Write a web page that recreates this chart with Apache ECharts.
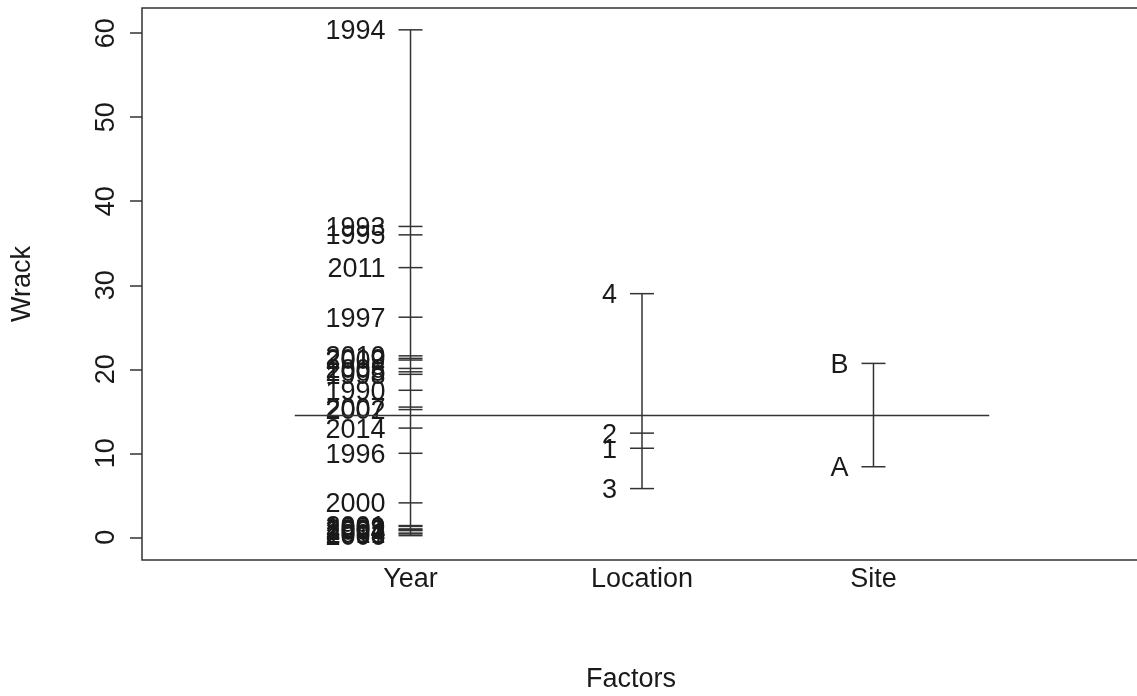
<!DOCTYPE html>
<html>
<head>
<meta charset="utf-8">
<script src="https://cdn.jsdelivr.net/npm/echarts@6/dist/echarts.min.js"></script>
<style>
  html, body { margin: 0; padding: 0; background: #fff; }
  #chart { width: 1137px; height: 696px; }
</style>
</head>
<body>
<div id="chart"></div>
<script>
// Design plot: mean of Wrack at each level of each factor
const factorNames = ['Year', 'Location', 'Site'];

const yearLevels = ['1990', '1991', '1992', '1993', '1994', '1995', '1996', '1997', '1998', '1999',
                    '2000', '2001', '2002', '2003', '2004', '2005', '2006', '2007', '2008', '2009',
                    '2010', '2011', '2012', '2013', '2014'];
const yearMeans  = [17.5, 0.5, 0.9, 37.0, 60.4, 36.0, 10.0, 26.2, 19.4, 1.3,
                    4.1, 1.4, 15.2, 1.0, 0.8, 19.7, 0.2, 15.5, 20.1, 21.1,
                    21.6, 32.1, 21.3, 0.4, 13.0];

const locationLevels = ['1', '2', '3', '4'];
const locationMeans  = [10.6, 12.4, 5.8, 29.0];

const siteLevels = ['A', 'B'];
const siteMeans  = [8.4, 20.7];

const grandMean = 14.5;
const yTicks = [0, 10, 20, 30, 40, 50, 60];

const FONT = '"Liberation Sans", Arial, sans-serif';
const INK = '#1a1a1a';
const LINE = '#333';

const factors = [
  { levels: yearLevels, means: yearMeans },
  { levels: locationLevels, means: locationMeans },
  { levels: siteLevels, means: siteMeans }
];

// one row per factor level, positioned at the factor's slot (1, 2, 3)
const levelRows = [];
factors.forEach((f, i) => {
  f.levels.forEach((lv, j) => levelRows.push({ x: i + 1, v: f.means[j], label: lv }));
});
const rangeRows = factors.map((f, i) => [i + 1, Math.min(...f.means), Math.max(...f.means)]);

const chart = echarts.init(document.getElementById('chart'), null, { renderer: 'canvas' });

chart.setOption({
  backgroundColor: '#fff',
  animation: false,
  grid: {
    left: 142, top: 8, right: -5, bottom: 136,
    outerBoundsMode: 'none', containLabel: false,
    show: true, borderColor: LINE, borderWidth: 1.5, backgroundColor: 'transparent'
  },
  xAxis: {
    type: 'value', min: -0.16, max: 4.16,
    splitLine: { show: false },
    axisLine: { show: false, onZero: false },
    axisTick: { show: false },
    axisLabel: {
      customValues: [1, 2, 3],
      formatter: v => factorNames[Math.round(v) - 1] || '',
      fontSize: 27, fontFamily: FONT, color: INK, margin: 6
    },
    name: 'Factors', nameLocation: 'middle', nameGap: 106,
    nameTextStyle: { fontSize: 27, fontFamily: FONT, color: INK, padding: [0, 22, 0, 0] }
  },
  yAxis: {
    type: 'value', min: -2.7, max: 63,
    splitLine: { show: false },
    axisLine: { show: false, onZero: false },
    axisTick: { show: true, customValues: yTicks, length: 12, lineStyle: { color: LINE, width: 1.5 } },
    axisLabel: {
      customValues: yTicks, rotate: 90,
      fontSize: 27, fontFamily: FONT, color: INK, margin: 22
    },
    name: 'Wrack', nameLocation: 'middle', nameRotate: 90, nameGap: 106,
    nameTextStyle: { fontSize: 27, fontFamily: FONT, color: INK }
  },
  series: [
    {
      // overall mean
      type: 'line',
      data: [[0.5, grandMean], [3.5, grandMean]],
      symbol: 'none',
      lineStyle: { color: LINE, width: 1.5 },
      silent: true
    },
    {
      // span of level means for each factor
      type: 'custom',
      data: rangeRows,
      renderItem: (params, api) => {
        const a = api.coord([api.value(0), api.value(1)]);
        const b = api.coord([api.value(0), api.value(2)]);
        return {
          type: 'line',
          shape: { x1: a[0], y1: a[1], x2: b[0], y2: b[1] },
          style: { stroke: LINE, lineWidth: 1.5 }
        };
      },
      silent: true
    },
    {
      // a short tick and a label at each level mean
      type: 'custom',
      data: levelRows.map(r => [r.x, r.v]),
      renderItem: (params, api) => {
        const p = api.coord([api.value(0), api.value(1)]);
        const label = levelRows[params.dataIndex].label;
        return {
          type: 'group',
          children: [
            {
              type: 'line',
              shape: { x1: p[0] - 12, y1: p[1], x2: p[0] + 12, y2: p[1] },
              style: { stroke: LINE, lineWidth: 1.5 }
            },
            {
              type: 'text',
              style: {
                text: label, x: p[0] - 25, y: p[1] + 2,
                align: 'right', verticalAlign: 'middle',
                font: '27px ' + FONT, fill: INK
              }
            }
          ]
        };
      },
      silent: true
    }
  ]
});
</script>
</body>
</html>
